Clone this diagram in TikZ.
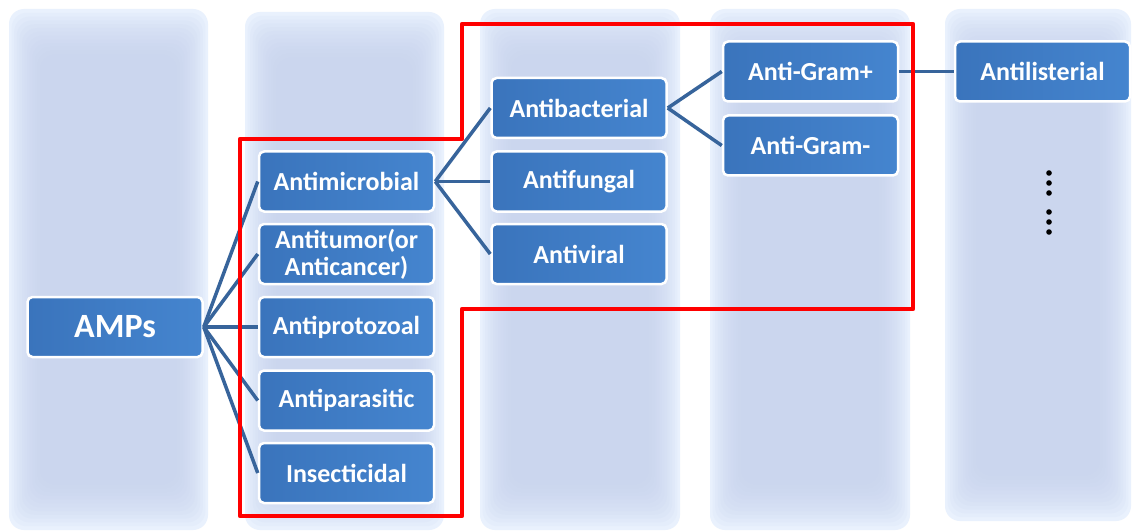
\documentclass[tikz,border=0pt]{standalone}
\usepackage{fontspec}
\setmainfont{Carlito}
\definecolor{colEdge}{RGB}{233,241,253}
\definecolor{colMid}{RGB}{198,210,238}
\definecolor{nodeL}{RGB}{58,116,188}
\definecolor{nodeR}{RGB}{69,133,207}
\definecolor{linkc}{RGB}{55,100,155}
\definecolor{frame}{RGB}{255,0,0}
\begin{document}
\begin{tikzpicture}[x=1pt,y=-1pt,
  box/.style={draw=white, line width=2.5pt, rounded corners=5pt, left color=nodeL, right color=nodeR,
    text=white, font=\bfseries\fontsize{26}{27}\selectfont, minimum width=175pt, minimum height=60pt,
    inner sep=0pt, align=center},
  bigbox/.style={box, font=\bfseries\fontsize{34}{36}\selectfont},
  link/.style={draw=linkc, line width=3.5pt},
  redframe/.style={draw=frame, line width=4.5pt, line join=round}]
\useasboundingbox (0,0) rectangle (1133,532);
\fill[white] (0,0) rectangle (1133,532);
% background columns
\foreach \a/\b/\c/\d in {9/9/208/530, 245/12/444/530, 480/9/680/530, 710/9/910/530, 945/9/1131/521} {
  \fill[colEdge, rounded corners=15pt] (\a,\b) rectangle (\c,\d);
  \foreach \i in {1,...,12}
    \fill[colMid, opacity=0.12, rounded corners=15pt] (\a+\i*2.6,\b+\i*3.8) rectangle (\c-\i*2.6,\d-\i*3.8);
}
% nodes
\node[bigbox] (amps) at (115,327) {AMPs};
\node[box] (mic) at (346.5,181.5) {Antimicrobial};
\node[box] (tum) at (346.5,254) {Antitumor(or\\Anticancer)};
\node[box] (pro) at (346.5,327) {Antiprotozoal};
\node[box] (par) at (346.5,400.5) {Antiparasitic};
\node[box] (ins) at (346.5,473) {Insecticidal};
\node[box] (bac) at (579,108) {Antibacterial};
\node[box] (fun) at (579,181.5) {Antifungal};
\node[box] (vir) at (579,254) {Antiviral};
\node[box] (gp) at (810.5,71.5) {Anti-Gram+};
\node[box] (gm) at (810.5,145.5) {Anti-Gram-};
\node[box] (lis) at (1042.5,71.5) {Antilisterial};
% connectors
\foreach \t in {mic,tum,pro,par,ins} \draw[link] (amps.east) -- (\t.west);
\foreach \t in {bac,fun,vir} \draw[link] (mic.east) -- (\t.west);
\foreach \t in {gp,gm} \draw[link] (bac.east) -- (\t.west);
\draw[link] (gp.east) -- (lis.west);
% vertical dots
\foreach \y in {173,183,193,212,222,232} \fill[black] (1049,\y) circle (2.8pt);
% red frame
\draw[redframe] (240,139) -- (462,139) -- (462,24) -- (913,24) -- (913,309) -- (462,309) -- (462,516) -- (240,516) -- cycle;
\end{tikzpicture}
\end{document}
